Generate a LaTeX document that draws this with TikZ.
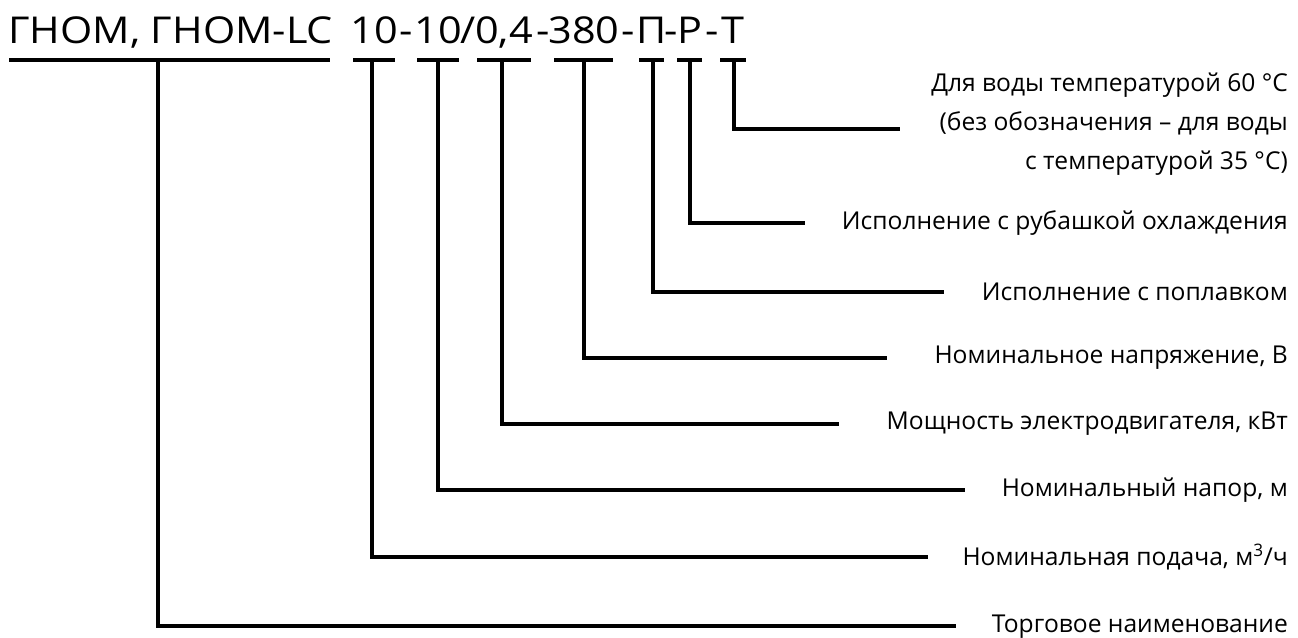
\documentclass[tikz,border=0pt]{standalone}
\usepackage{fontspec}
\setmainfont{Open Sans}
\newfontfamily\titlefont[FakeStretch=1.12]{Open Sans}
\begin{document}
\begin{tikzpicture}[x=1pt,y=-1pt,
  conn/.style={line width=4pt, line join=miter},
  barline/.style={line width=4pt},
  lbl/.style={anchor=east, inner sep=0pt, font=\fontsize{24.6}{39}\selectfont},
  ttl/.style={anchor=base, inner sep=0pt, font=\titlefont\fontsize{37}{44}\selectfont}]
\useasboundingbox (0,0) rectangle (1298,637);
% title
\node[ttl, anchor=base west] (t1) at (8,43) {ГНОМ, ГНОМ-LC};
\node[ttl] (t2) at (374,43) {10};
\node[ttl] (s1) at (406,43) {-};
\node[ttl] (t3) at (438,43) {10};
\node[ttl] (s2) at (468,43) {/};
\node[ttl] (t4) at (504,43) {0,4};
\node[ttl] (s3) at (543,43) {-};
\node[ttl] (t5) at (584,43) {380};
\node[ttl] (s4) at (628,43) {-};
\node[ttl] (t6) at (652,43) {П};
\node[ttl] (s5) at (671,43) {-};
\node[ttl] (t7) at (690,43) {Р};
\node[ttl] (s6) at (712,43) {-};
\node[ttl] (t8) at (733,43) {Т};
% bars under the title
\draw[barline] (9,60) -- (330,60);
\draw[barline] (353,60) -- (395,60);
\draw[barline] (417,60) -- (459,60);
\draw[barline] (477,60) -- (531,60);
\draw[barline] (554,60) -- (613,60);
\draw[barline] (639,60) -- (664,60);
\draw[barline] (677,60) -- (702,60);
\draw[barline] (720,60) -- (746,60);
% connector start points
\coordinate (b1) at (158,60);
\coordinate (b2) at (372,60);
\coordinate (b3) at (438,60);
\coordinate (b4) at (502,60);
\coordinate (b5) at (584,60);
\coordinate (b6) at (653,60);
\coordinate (b7) at (690,60);
\coordinate (b8) at (734,60);
% connector end points
\coordinate (e1) at (956,626);
\coordinate (e2) at (928,557);
\coordinate (e3) at (965,490);
\coordinate (e4) at (839,424);
\coordinate (e5) at (887,358);
\coordinate (e6) at (944,292);
\coordinate (e7) at (805,223);
\coordinate (e8) at (900,129);
% labels
\node[lbl] (l1) at (1288,627) {Торговое наименование};
\node[lbl] (l2) at (1288,557) {Номинальная подача, м\textsuperscript{3}/ч};
\node[lbl] (l3) at (1288,490) {Номинальный напор, м};
\node[lbl] (l4) at (1288,424) {Мощность электродвигателя, кВт};
\node[lbl] (l5) at (1288,358) {Номинальное напряжение, В};
\node[lbl] (l6) at (1288,292) {Исполнение с поплавком};
\node[lbl] (l7) at (1288,223) {Исполнение с рубашкой охлаждения};
\node[lbl, align=right] (l8) at (1288,124) {Для воды температурой 60 °С\\(без обозначения – для воды\\с температурой 35 °С)};
% connectors
\draw[conn] (b1) |- (e1);
\draw[conn] (b2) |- (e2);
\draw[conn] (b3) |- (e3);
\draw[conn] (b4) |- (e4);
\draw[conn] (b5) |- (e5);
\draw[conn] (b6) |- (e6);
\draw[conn] (b7) |- (e7);
\draw[conn] (b8) |- (e8);
\end{tikzpicture}
\end{document}
